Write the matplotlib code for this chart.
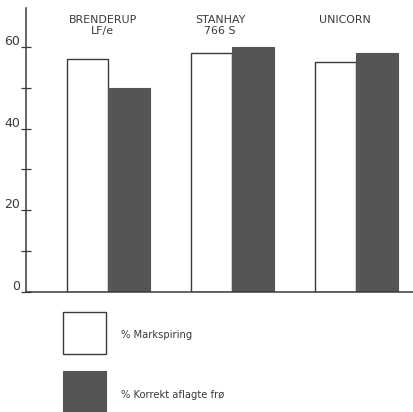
import matplotlib
matplotlib.use("Agg")
import matplotlib.pyplot as plt
import matplotlib.transforms as mtransforms
from matplotlib.patches import Rectangle
import numpy as np

# Values
machines = ["BRENDERUP\nLF/e", "STANHAY\n766 S", "UNICORN"]
markspiring = [57, 58.5, 56.3]      # % field emergence
korrekt_aflagt = [50, 60, 58.6]     # % correctly placed seed
legend_labels = ["% Markspiring", "% Korrekt aflagte frø"]
y_major = [0, 20, 40, 60]
y_minor = [10, 30, 50]

INK = "#3a3a3a"
DARK = "#555555"

fig = plt.figure(figsize=(4.13, 4.12), dpi=100)
ax = fig.add_axes([26 / 413, 120 / 412, 387 / 413, 284 / 412])

x = np.arange(len(machines))
w = 0.335
ax.bar(x - w / 2, markspiring, width=w, color="white", edgecolor=INK, linewidth=1.0)
ax.bar(x + w / 2, korrekt_aflagt, width=w, color=DARK, edgecolor=DARK, linewidth=0.8)

ax.set_xlim(-0.665, 2.456)
ax.set_ylim(0, 69.5)

for side in ("top", "right"):
    ax.spines[side].set_visible(False)
ax.spines["left"].set_color(INK)
ax.spines["bottom"].set_color(INK)
ax.spines["left"].set_linewidth(1.1)
ax.spines["bottom"].set_linewidth(1.1)

ax.set_xticks([])
ax.set_yticks(y_major)
ax.set_yticks(y_minor, minor=True)
ax.tick_params(axis="y", which="both", direction="inout", length=6.5, width=0.9,
               color=INK, labelcolor=INK, labelsize=9, pad=1)
offset = mtransforms.ScaledTranslation(0, 0.07, fig.dpi_scale_trans)
for lab in ax.get_yticklabels():
    lab.set_transform(lab.get_transform() + offset)

# machine names above each pair (slightly left of the pair centre, as printed)
label_dx = [-0.045, -0.1, -0.09]
for xi, name, dx in zip(x, machines, label_dx):
    ax.text(xi + dx, 1.0 - 7 / 284, name, transform=ax.get_xaxis_transform(),
            ha="center", va="top", fontsize=7.9, color=INK, linespacing=1.1)

# legend drawn as figure boxes
fig.patches.append(Rectangle((63 / 413, 1 - 354 / 412), 43 / 413, 42 / 412,
                             transform=fig.transFigure, facecolor="white",
                             edgecolor=INK, linewidth=1.0))
fig.patches.append(Rectangle((63 / 413, 1 - 425 / 412), 43 / 413, 54 / 412,
                             transform=fig.transFigure, facecolor=DARK,
                             edgecolor=DARK, linewidth=0.8))
fig.text(121 / 413, 1 - 335 / 412, legend_labels[0], fontsize=7.2, color=INK,
         va="center", ha="left")
fig.text(121 / 413, 1 - 395 / 412, legend_labels[1], fontsize=7.2, color=INK,
         va="center", ha="left")

fig.savefig("out.png", dpi=100)
